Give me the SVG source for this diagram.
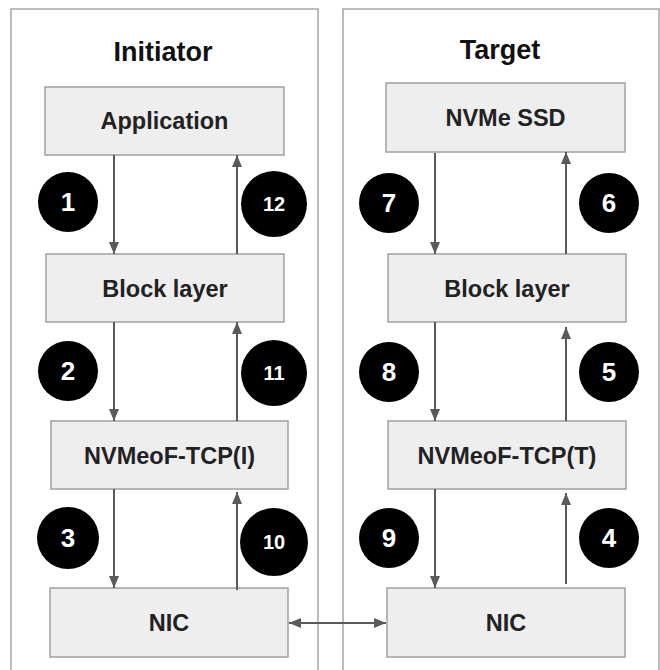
<svg xmlns="http://www.w3.org/2000/svg" width="660" height="670" viewBox="0 0 660 670">
<defs>
<marker id="ah" viewBox="0 0 12 10" refX="12" refY="5" markerWidth="12" markerHeight="10" markerUnits="userSpaceOnUse" orient="auto-start-reverse">
<path d="M0,0 L12,5 L0,10 z" fill="#5a5a5a"/>
</marker>
</defs>
<style>
.panel{fill:#ffffff;stroke:#a6a6a6;stroke-width:1.5}
.box{fill:#eeeeee;stroke:#a0a0a0;stroke-width:1.5}
.lbl{font-family:"Liberation Sans",Arial,sans-serif;font-weight:bold;font-size:23.5px;fill:#222;text-anchor:middle}
.title{font-family:"Liberation Sans",Arial,sans-serif;font-weight:bold;font-size:27px;fill:#111;text-anchor:middle}
.conn{stroke:#5a5a5a;stroke-width:2;fill:none;marker-end:url(#ah)}
.badge circle{fill:#000}
.badge text{font-family:"Liberation Sans",Arial,sans-serif;font-weight:bold;fill:#fff;text-anchor:middle}
.big{font-size:26px}
.small{font-size:20px}
</style>
<rect width="660" height="670" fill="#ffffff"/>
<g id="initiator-panel">
<rect class="panel" x="11" y="9" width="307" height="680"/>
<text class="title" x="163" y="61">Initiator</text>
</g>
<g id="target-panel">
<rect class="panel" x="343" y="9" width="316" height="680"/>
<text class="title" x="500" y="59">Target</text>
</g>
<g id="application"><rect class="box" x="45" y="87" width="239" height="68"/><text class="lbl" x="164.5" y="129">Application</text></g>
<g id="block-layer-i"><rect class="box" x="46" y="254" width="238" height="68"/><text class="lbl" x="165" y="297">Block layer</text></g>
<g id="nvmeof-tcp-i"><rect class="box" x="51" y="421" width="237" height="68"/><text class="lbl" x="169.5" y="464">NVMeoF-TCP(I)</text></g>
<g id="nic-i"><rect class="box" x="50" y="588" width="238" height="69"/><text class="lbl" x="169" y="631">NIC</text></g>
<g id="nvme-ssd"><rect class="box" x="386" y="83" width="239" height="69"/><text class="lbl" x="505.5" y="126">NVMe SSD</text></g>
<g id="block-layer-t"><rect class="box" x="388" y="254" width="238" height="68"/><text class="lbl" x="507" y="297">Block layer</text></g>
<g id="nvmeof-tcp-t"><rect class="box" x="388" y="421" width="238" height="68"/><text class="lbl" x="507" y="464">NVMeoF-TCP(T)</text></g>
<g id="nic-t"><rect class="box" x="387" y="588" width="238" height="69"/><text class="lbl" x="506" y="631">NIC</text></g>
<g id="connectors">
<line class="conn" x1="114" y1="155" x2="114" y2="254"/>
<line class="conn" x1="237" y1="254" x2="237" y2="155"/>
<line class="conn" x1="114" y1="322" x2="114" y2="421"/>
<line class="conn" x1="237" y1="421" x2="237" y2="322"/>
<line class="conn" x1="114" y1="489" x2="114" y2="588"/>
<line class="conn" x1="237" y1="590" x2="237" y2="492"/>
<line class="conn" x1="435" y1="153" x2="435" y2="254"/>
<line class="conn" x1="566" y1="254" x2="566" y2="152"/>
<line class="conn" x1="435" y1="322" x2="435" y2="421"/>
<line class="conn" x1="566" y1="421" x2="566" y2="327"/>
<line class="conn" x1="435" y1="489" x2="435" y2="588"/>
<line class="conn" x1="566" y1="584" x2="566" y2="493"/>
<line class="conn" x1="289" y1="623" x2="386" y2="623" style="marker-start:url(#ah)"/>
</g>
<g id="badges">
<g class="badge" id="b1"><circle cx="68" cy="202" r="30"/><text class="big" x="68" y="211">1</text></g>
<g class="badge" id="b12"><circle cx="274" cy="204" r="33"/><text class="small" x="274" y="211">12</text></g>
<g class="badge" id="b2"><circle cx="68" cy="371" r="30"/><text class="big" x="68" y="380">2</text></g>
<g class="badge" id="b11"><circle cx="274" cy="373" r="33"/><text class="small" x="274" y="380">11</text></g>
<g class="badge" id="b3"><circle cx="68" cy="538" r="31"/><text class="big" x="68" y="547">3</text></g>
<g class="badge" id="b10"><circle cx="274" cy="542" r="34"/><text class="small" x="274" y="549">10</text></g>
<g class="badge" id="b7"><circle cx="389" cy="203" r="30"/><text class="big" x="389" y="212">7</text></g>
<g class="badge" id="b6"><circle cx="609" cy="203" r="30"/><text class="big" x="609" y="212">6</text></g>
<g class="badge" id="b8"><circle cx="389" cy="372" r="30"/><text class="big" x="389" y="381">8</text></g>
<g class="badge" id="b5"><circle cx="609" cy="372" r="30"/><text class="big" x="609" y="381">5</text></g>
<g class="badge" id="b9"><circle cx="389" cy="538" r="30"/><text class="big" x="389" y="547">9</text></g>
<g class="badge" id="b4"><circle cx="609" cy="538" r="30"/><text class="big" x="609" y="547">4</text></g>
</g>
</svg>
